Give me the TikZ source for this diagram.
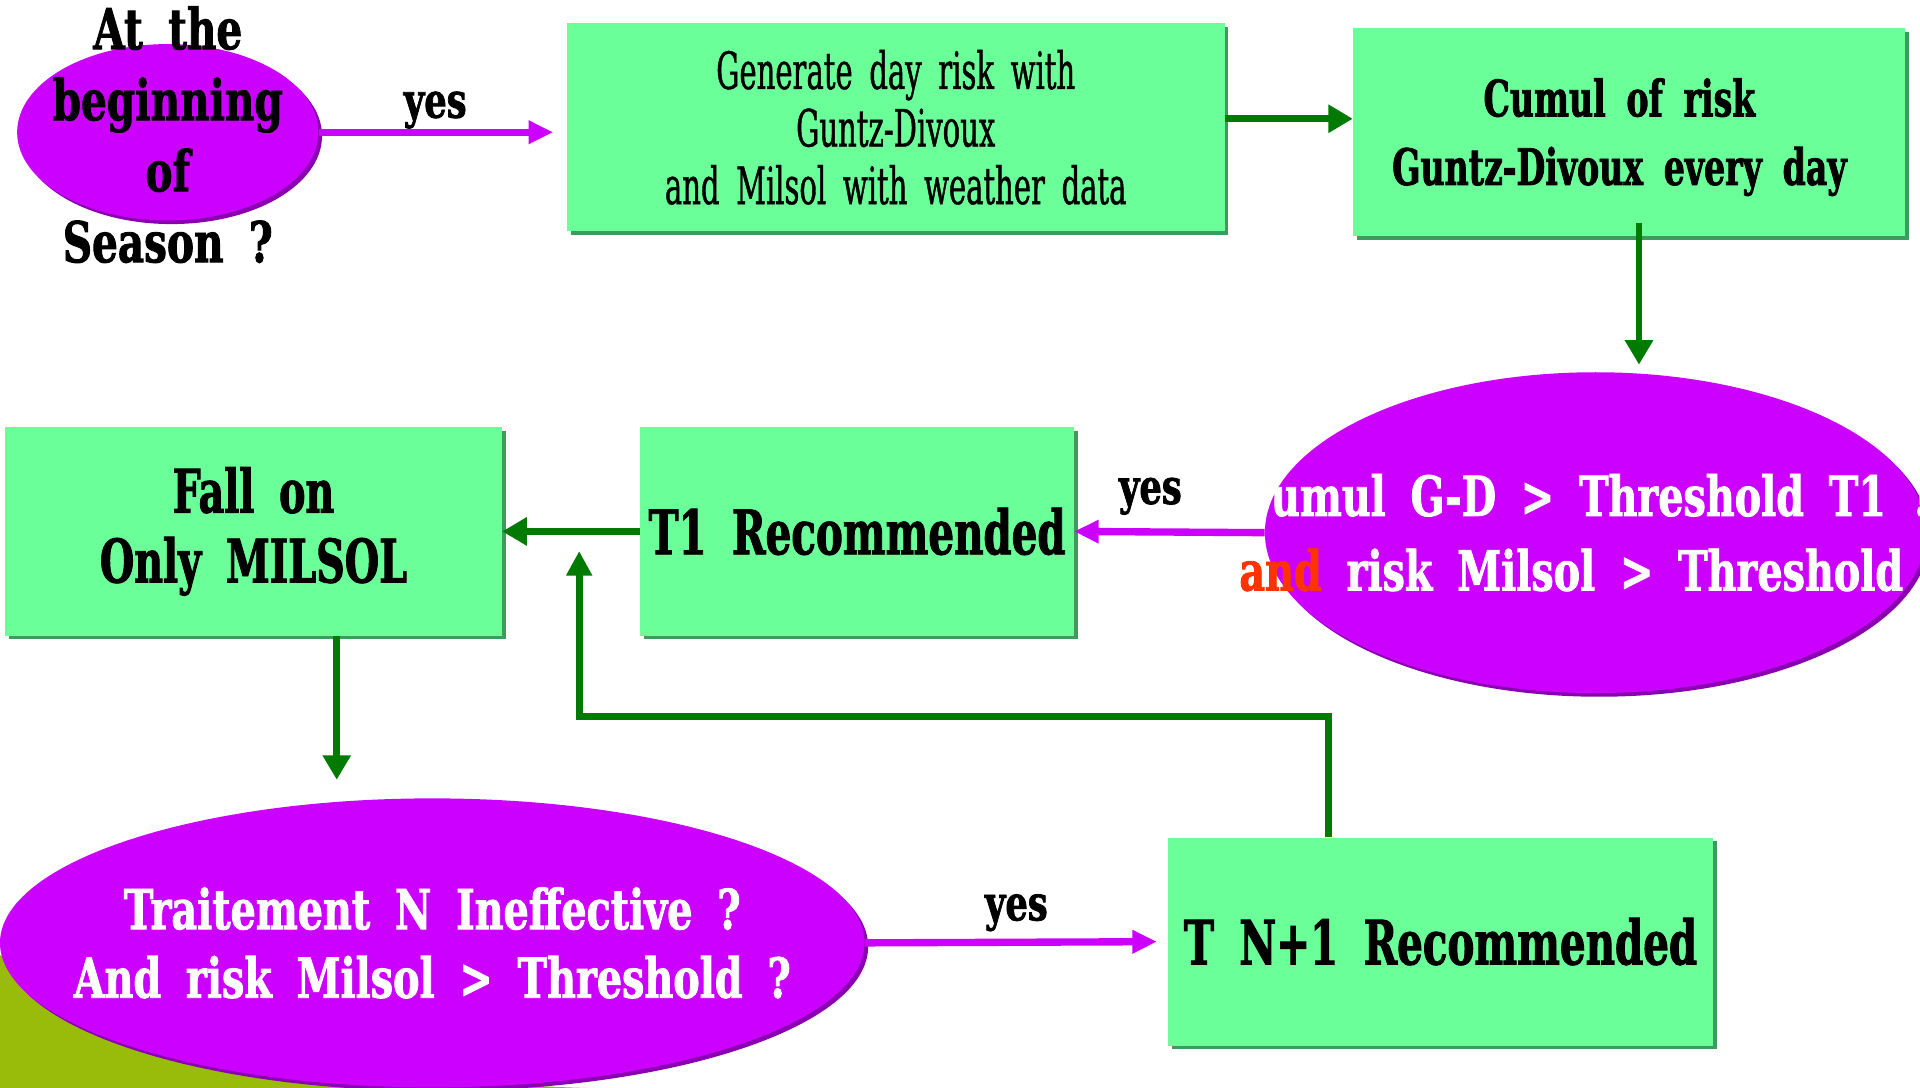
\documentclass[tikz,border=0pt]{standalone}
\usepackage{fontspec}
\newfontfamily\slabbold{DejaVu Serif}[FakeStretch=0.66,WordSpace=1.8,BoldFeatures={FakeBold=1.5}]
\newfontfamily\slabwide{DejaVu Serif}[FakeStretch=0.72,WordSpace=1.8,BoldFeatures={FakeBold=1.5}]
\newfontfamily\slabthin{DejaVu Serif}[FakeStretch=0.565,WordSpace=1.8,FakeBold=0.8]
\usetikzlibrary{shapes.geometric, arrows.meta, shadows}

\definecolor{boxgreen}{HTML}{6BFF99}
\definecolor{boxshade}{HTML}{409A60}
\definecolor{flowgreen}{HTML}{007A00}
\definecolor{askpurple}{HTML}{CC00FF}
\definecolor{askshade}{HTML}{8A00B0}
\definecolor{olive}{HTML}{99BB0A}
\definecolor{andred}{HTML}{FF3300}

\tikzset{
  box/.style={rectangle, fill=boxgreen, minimum width=#1, minimum height=170pt,
    inner sep=0pt, align=center,
    drop shadow={shadow xshift=3pt, shadow yshift=-3pt, fill=boxshade, opacity=1}},
  question/.style={ellipse, fill=askpurple, inner sep=0pt,
    drop shadow={shadow xshift=3pt, shadow yshift=-3pt, fill=askshade, opacity=1}},
  asktext/.style={inner sep=0pt, align=center, text=white},
  greenflow/.style={draw=flowgreen, line width=5.5pt, -{Triangle[length=20pt, width=22pt]}},
  purpleflow/.style={draw=askpurple, line width=6pt, -{Triangle[length=20pt, width=18pt]}},
  yes/.style={inner sep=0pt, font=\slabwide\bfseries\fontsize{40}{42}\selectfont}
}

\begin{document}
\begin{tikzpicture}[x=1pt, y=-1pt]
\useasboundingbox (0,0) rectangle (1568,888.5);
% background corner
\fill[olive] (0,780) .. controls (150,850) and (330,885) .. (480,888.5) -- (0,888.5) -- cycle;

% nodes
\node[question, minimum width=246pt, minimum height=144pt] (start) at (137,108) {};
\node[asktext, text=black, font=\slabwide\bfseries\fontsize{46}{58}\selectfont] (starttext) at (137,110)
  {At the\\beginning\\of\\Season ?};
\node[box=537pt, font=\slabthin\fontsize{42}{47}\selectfont] (gen) at (731.5,104)
  {Generate day risk with\\Guntz-Divoux\\and Milsol with weather data};
\node[box=451pt, font=\slabbold\bfseries\fontsize{41}{56}\selectfont] (cumul) at (1330.5,108)
  {\strut Cumul of risk\hspace*{16pt}\\Guntz-Divoux every day\hspace*{16pt}};
\node[question, minimum width=540pt, minimum height=262pt] (cond) at (1303,435) {};
\node[asktext, align=left, anchor=west, font=\slabwide\bfseries\fontsize{45}{61}\selectfont] (condtext) at (1012,435)
  {Cumul G-D > Threshold T1 ?\\\textcolor{andred}{and} risk Milsol > Threshold ?};
\node[box=354pt, font=\slabbold\bfseries\fontsize{50}{56}\selectfont] (tone) at (700,434) {T1 Recommended};
\node[box=406pt, font=\slabbold\bfseries\fontsize{49}{57}\selectfont] (fall) at (207,434) {Fall on\\Only MILSOL};
\node[question, minimum width=706pt, minimum height=236pt] (ineff) at (353,770) {};
\node[asktext, font=\slabwide\bfseries\fontsize{45}{56}\selectfont] (inefftext) at (353,770)
  {Traitement N Ineffective ?\\And risk Milsol > Threshold ?};
\node[box=445pt, font=\slabbold\bfseries\fontsize{50}{56}\selectfont] (tnext) at (1176.5,769) {T N+1 Recommended};
\coordinate (loopend) at (473,450);

% connectors
\draw[purpleflow, shorten >=11pt] (start.east) -- (start.east -| gen.west)
  node[yes, pos=0.47, above=0pt] (yesa) {yes};
\draw[greenflow] ([yshift=7pt]gen.east) -- ([yshift=7pt]gen.east -| cumul.west);
\draw[greenflow, shorten >=6pt] ([xshift=8pt, yshift=11pt]cumul.south) -- ([xshift=8pt]cumul.south |- cond.north);
\draw[purpleflow] (cond.west) -- (tone.east)
  node[yes, pos=0.6, above=11pt] (yesb) {yes};
\draw[greenflow] (tone.west) -- (fall.east);
\draw[greenflow, shorten >=15pt] ([xshift=68pt]fall.south) -- ([xshift=68pt]fall.south |- ineff.north);
\draw[purpleflow, shorten >=9pt] (ineff.east) -- (tnext.west)
  node[yes, pos=0.5, above=6pt] (yesc) {yes};
\draw[greenflow, -{Triangle[length=20pt, width=20pt]}] ([xshift=-91.5pt]tnext.north) |- ([yshift=-135pt]loopend) -- (loopend);
\end{tikzpicture}
\end{document}
